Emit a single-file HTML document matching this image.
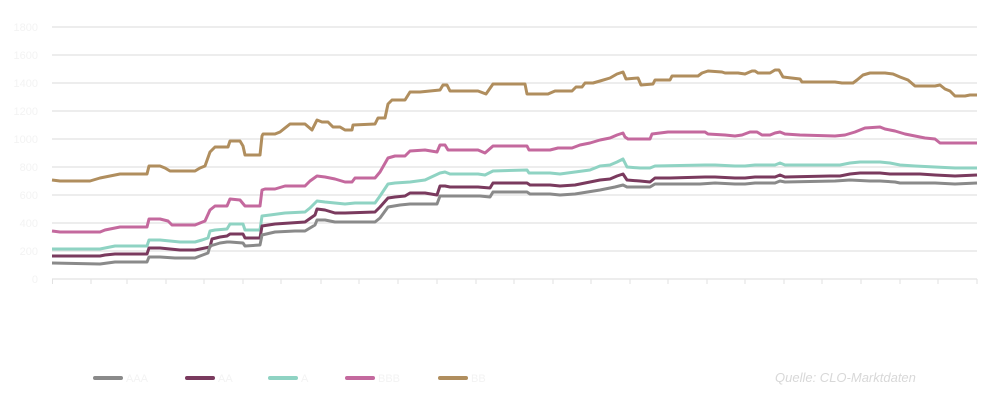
<!DOCTYPE html>
<html><head><meta charset="utf-8"><style>
body{margin:0;background:#fff;width:1005px;height:402px;overflow:hidden;font-family:"Liberation Sans",sans-serif}
</style></head><body>
<svg width="1005" height="402" xmlns="http://www.w3.org/2000/svg">
<g stroke="#e2e2e2" stroke-width="1.3">
<line x1="52" x2="977" y1="27" y2="27"/><line x1="52" x2="977" y1="55" y2="55"/><line x1="52" x2="977" y1="83" y2="83"/><line x1="52" x2="977" y1="111" y2="111"/><line x1="52" x2="977" y1="139" y2="139"/><line x1="52" x2="977" y1="167" y2="167"/><line x1="52" x2="977" y1="195" y2="195"/><line x1="52" x2="977" y1="223" y2="223"/><line x1="52" x2="977" y1="251" y2="251"/><line x1="52" x2="977" y1="279" y2="279"/>
</g>
<g stroke="#e2e2e2" stroke-width="1">
<line x1="52.5" x2="52.5" y1="279" y2="284"/><line x1="91" x2="91" y1="279" y2="284"/><line x1="127" x2="127" y1="279" y2="284"/><line x1="166" x2="166" y1="279" y2="284"/><line x1="204" x2="204" y1="279" y2="284"/><line x1="243" x2="243" y1="279" y2="284"/><line x1="281" x2="281" y1="279" y2="284"/><line x1="321" x2="321" y1="279" y2="284"/><line x1="359" x2="359" y1="279" y2="284"/><line x1="398" x2="398" y1="279" y2="284"/><line x1="437" x2="437" y1="279" y2="284"/><line x1="476" x2="476" y1="279" y2="284"/><line x1="514" x2="514" y1="279" y2="284"/><line x1="553" x2="553" y1="279" y2="284"/><line x1="591" x2="591" y1="279" y2="284"/><line x1="630" x2="630" y1="279" y2="284"/><line x1="668" x2="668" y1="279" y2="284"/><line x1="707" x2="707" y1="279" y2="284"/><line x1="745" x2="745" y1="279" y2="284"/><line x1="784" x2="784" y1="279" y2="284"/><line x1="822" x2="822" y1="279" y2="284"/><line x1="861" x2="861" y1="279" y2="284"/><line x1="900" x2="900" y1="279" y2="284"/><line x1="938" x2="938" y1="279" y2="284"/><line x1="977" x2="977" y1="279" y2="284"/>
</g>
<g fill="#f3f3f3" font-size="11" text-anchor="end">
<text x="38" y="31">1800</text><text x="38" y="59">1600</text><text x="38" y="87">1400</text><text x="38" y="115">1200</text><text x="38" y="143">1000</text><text x="38" y="171">800</text><text x="38" y="199">600</text><text x="38" y="227">400</text><text x="38" y="255">200</text><text x="38" y="283">0</text>
</g>
<g fill="none" stroke-width="3" stroke-linejoin="round">
<polyline stroke="#b08e5e" points="52,180 60,181 90,181 100,178 110,176 120,174 147,174 149,166 160,166 165,168 170,171 195,171 200,168 205,166 210,152 215,147 228,147 230,141 240,141 243,146 245,155 260,155 262,136 263,134 275,134 280,132 290,124 305,124 312,130 317,120 322,122 328,122 333,127 340,127 345,130 352,130 353,125 375,124 378,118 385,118 388,104 392,100 405,100 410,92 420,92 440,90 443,85 447,85 450,91 478,91 486,94 493,84 525,84 527,94 548,94 555,91 572,91 576,87 582,87 585,83 593,83 600,81 610,78 617,74 623,72 626,79 638,78 641,85 653,84 655,80 670,80 672,76 698,76 702,73 708,71 722,72 725,73 738,73 745,74 752,71 755,71 758,73 770,73 775,70 779,70 783,77 800,79 802,82 820,82 835,82 842,83 853,83 857,80 863,75 870,73 885,73 893,74 900,77 908,80 915,86 935,86 940,85 945,89 950,91 955,96 965,96 970,95 977,95"/>
<polyline stroke="#c4699e" points="52,231 60,232 100,232 105,230 115,228 120,227 147,227 149,219 160,219 168,221 172,225 195,225 200,223 205,221 210,210 215,206 227,206 230,199 240,200 245,206 260,206 262,190 265,189 275,189 285,186 305,186 310,181 317,176 325,177 335,179 345,182 352,182 355,178 375,178 380,172 388,158 395,156 405,156 410,151 425,150 437,152 440,145 445,145 448,150 478,150 485,153 493,146 527,146 529,150 550,150 558,148 572,148 580,145 590,143 600,140 610,138 617,135 623,133 625,137 628,139 650,139 652,134 668,132 705,132 708,134 725,135 735,136 742,135 750,132 757,132 762,135 770,135 775,133 780,132 785,134 800,135 835,136 845,135 855,132 865,128 880,127 885,129 895,131 905,134 915,136 925,138 935,139 940,143 960,143 977,143"/>
<polyline stroke="#8fd3c3" points="52,249 100,249 105,248 115,246 147,246 149,240 160,240 170,241 180,242 195,242 202,240 208,238 210,231 215,230 227,229 230,224 243,224 245,230 260,230 262,216 270,215 285,213 305,212 310,208 317,201 325,202 335,203 345,204 355,203 375,203 380,196 388,184 395,183 410,182 425,180 440,173 445,172 450,174 478,174 485,175 493,171 527,170 529,173 550,173 560,174 575,172 590,170 600,166 610,165 617,162 623,159 627,167 640,168 650,168 655,166 705,165 715,165 735,166 745,166 755,165 775,165 780,163 785,165 840,165 850,163 860,162 880,162 890,163 900,165 915,166 935,167 955,168 977,168"/>
<polyline stroke="#7a3a5e" points="52,256 100,256 105,255 115,254 147,254 149,248 160,248 170,249 180,250 195,250 200,249 210,247 212,239 220,237 227,236 230,234 243,234 245,238 260,238 262,226 275,224 290,223 305,222 315,215 317,209 325,210 335,213 345,213 375,212 380,207 388,198 395,197 405,196 410,193 425,193 437,195 440,186 445,186 450,187 478,187 490,188 493,183 527,183 530,185 550,185 560,186 575,185 590,182 600,180 610,179 617,176 623,174 627,180 640,181 650,182 655,178 670,178 705,177 715,177 735,178 745,178 755,177 775,177 780,175 785,177 830,176 840,176 850,174 860,173 880,173 890,174 920,174 935,175 955,176 977,175"/>
<polyline stroke="#8a8a8a" points="52,263 100,264 115,262 147,262 149,257 160,257 175,258 195,258 200,256 208,253 210,246 220,243 227,242 230,242 243,243 245,246 260,245 262,235 275,232 295,231 305,231 315,225 317,220 325,220 335,222 375,222 380,218 388,207 400,205 410,204 437,204 440,196 480,196 490,197 493,192 527,192 530,194 550,194 560,195 575,194 600,190 615,187 623,185 627,187 650,187 655,184 700,184 715,183 735,184 745,184 755,183 775,183 780,181 785,182 835,181 850,180 870,181 880,181 895,182 900,183 935,183 955,184 977,183"/>
</g>
<g stroke-width="4" stroke-linecap="round">
<line x1="95" x2="121" y1="378" y2="378" stroke="#8a8a8a"/>
<line x1="187" x2="213" y1="378" y2="378" stroke="#7a3a5e"/>
<line x1="270" x2="296" y1="378" y2="378" stroke="#8fd3c3"/>
<line x1="347" x2="373" y1="378" y2="378" stroke="#c4699e"/>
<line x1="440" x2="466" y1="378" y2="378" stroke="#b08e5e"/>
</g>
<g fill="#f3f3f3" font-size="11"><text x="126" y="382">AAA</text><text x="218" y="382">AA</text><text x="301" y="382">A</text><text x="378" y="382">BBB</text><text x="471" y="382">BB</text></g>
<text x="775" y="382" font-size="13" font-style="italic" fill="#d8d8d8">Quelle: CLO-Marktdaten</text>
</svg>
</body></html>
